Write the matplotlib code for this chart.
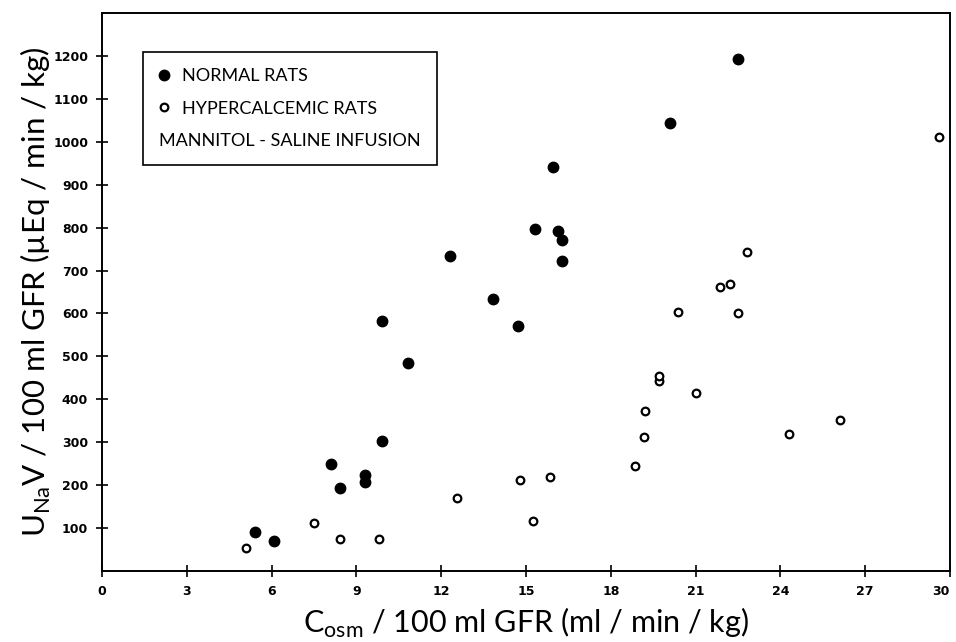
import matplotlib
matplotlib.use("Agg")
import matplotlib.pyplot as plt
from matplotlib.lines import Line2D

# Normal rats (filled circles)
normal_x = [5.40, 6.07, 8.10, 8.42, 9.29, 9.29, 9.92, 9.92, 10.82, 12.31,
            13.83, 14.73, 15.32, 15.95, 16.13, 16.26, 16.27, 20.09, 22.49]
normal_y = [90, 69, 250, 194, 223, 207, 302, 583, 484, 733,
            633, 571, 796, 942, 791, 771, 722, 1044, 1192]

# Hypercalcemic rats (open circles)
hyper_x = [5.11, 7.51, 8.42, 9.79, 12.57, 14.80, 15.25, 15.84, 18.85, 19.18, 19.21,
           19.72, 19.72, 20.39, 21.00, 21.88, 22.21, 22.50, 22.83, 24.31, 26.10, 29.62]
hyper_y = [54, 112, 75, 75, 170, 213, 116, 218, 244, 313, 373,
           442, 455, 603, 415, 661, 668, 600, 743, 319, 351, 1010]

x_ticks = list(range(0, 31, 3))
y_ticks = list(range(100, 1201, 100))

plt.rcParams["font.family"] = ["Lato", "DejaVu Sans"]

fig = plt.figure(figsize=(9.56, 6.42), dpi=100)
ax = fig.add_axes([0.1067, 0.1106, 0.887, 0.8692])

ax.plot(normal_x, normal_y, linestyle="none", marker="o", markersize=7.5,
        color="black", clip_on=False)
ax.plot(hyper_x, hyper_y, linestyle="none", marker="o", markersize=5.5,
        markerfacecolor="white", markeredgecolor="black", markeredgewidth=1.6,
        clip_on=False)

ax.set_xlim(0, 30)
ax.set_ylim(0, 1300)
ax.set_xticks(x_ticks)
ax.set_yticks(y_ticks)
ax.tick_params(direction="inout", length=8, width=1.2, labelsize=9, pad=6)
for lab in ax.get_xticklabels() + ax.get_yticklabels():
    lab.set_fontweight("bold")
    lab.set_family("DejaVu Sans")
# last x label sits on the right edge, keep it inside the picture
ax.get_xticklabels()[-1].set_horizontalalignment("right")
for s in ax.spines.values():
    s.set_linewidth(1.4)

ax.set_xlabel(r"C$_{\mathregular{osm}}$ / 100 ml GFR (ml / min / kg)",
              fontsize=22, color="black", labelpad=6)
ax.set_ylabel(r"U$_{\mathregular{Na}}$V / 100 ml GFR (µEq / min / kg)",
              fontsize=22.5, color="black", labelpad=0)

handles = [
    Line2D([], [], linestyle="none", marker="o", markersize=7.5, color="black"),
    Line2D([], [], linestyle="none", marker="o", markersize=5.5,
           markerfacecolor="white", markeredgecolor="black", markeredgewidth=1.6),
    Line2D([], [], linestyle="none"),
]
labels = ["NORMAL RATS", "HYPERCALCEMIC RATS", "MANNITOL - SALINE INFUSION"]
leg = ax.legend(handles, labels, loc="upper left", bbox_to_anchor=(0.048, 0.93),
                fontsize=13, frameon=True, fancybox=False, edgecolor="black",
                framealpha=1, handlelength=0.6, handletextpad=0.7,
                labelspacing=0.9, borderpad=0.9, borderaxespad=0)
leg.get_frame().set_linewidth(1.2)

# third row has no marker: let its text start where the markers start
try:
    row = leg._legend_handle_box.get_children()[0].get_children()[2]
    row.get_children()[0].width = 0
    row.sep = 0
except Exception:
    pass

fig.savefig("out.png", dpi=100)
